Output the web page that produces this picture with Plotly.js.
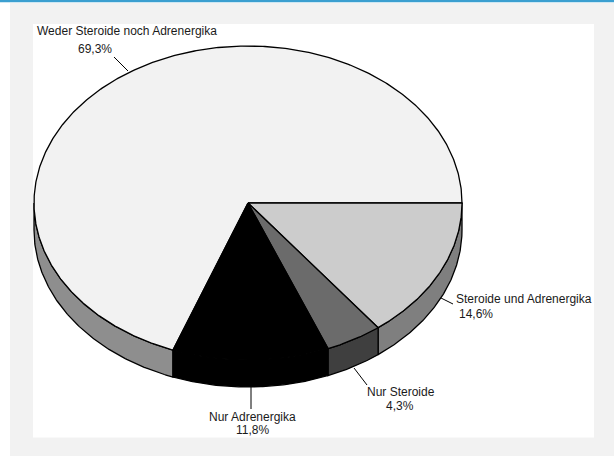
<!DOCTYPE html>
<html>
<head>
<meta charset="utf-8">
<script src="https://cdn.plot.ly/plotly-3.0.1.min.js"></script>
<style>html,body{margin:0;padding:0;background:#fff;}#chart{width:614px;height:456px;}</style>
</head>
<body>
<div id="chart"></div>
<script>
// ---- data ----
const categories = ["Weder Steroide noch Adrenergika", "Steroide und Adrenergika", "Nur Steroide", "Nur Adrenergika"];
const values = [69.3, 14.6, 4.3, 11.8];
const valueLabels = ["69,3%", "14,6%", "4,3%", "11,8%"];

// ---- style ----
const topColors = ["#f2f2f2", "#cccccc", "#6b6b6b", "#000000"];
const sideColors = ["#8e8e8e", "#7f7f7f", "#3f3f3f", "#000000"];

// 3D pie geometry (plot units = pixels)
const CX = 248, CY = 203, RX = 214, RY = 157, DEPTH = 27;
const total = values.reduce((a, b) => a + b, 0);
const startAngle = -values[0] / total * 360; // first slice ends at 3 o'clock

function pt(deg, dy) {
  const r = deg * Math.PI / 180;
  return [CX + RX * Math.cos(r), CY + RY * Math.sin(r) + (dy || 0)];
}
function arc(a0, a1, dy) {
  const n = Math.max(2, Math.ceil(Math.abs(a1 - a0) / 0.5));
  const out = [];
  for (let i = 0; i <= n; i++) out.push(pt(a0 + (a1 - a0) * i / n, dy));
  return out;
}

const sideTraces = [], topTraces = [];
let cum = 0;
values.forEach((v, i) => {
  const a0 = startAngle + cum / total * 360;
  const a1 = a0 + v / total * 360;
  cum += v;
  // visible side (front half: 0..180 deg, screen clockwise)
  for (let k = -360; k <= 360; k += 360) {
    const lo = Math.max(a0, k), hi = Math.min(a1, k + 180);
    if (hi > lo) {
      const pts = arc(lo, hi, 0).concat(arc(hi, lo, DEPTH));
      pts.push(pts[0]);
      sideTraces.push({
        type: "scatter", mode: "lines", fill: "toself",
        x: pts.map(p => p[0]), y: pts.map(p => p[1]),
        fillcolor: sideColors[i], line: {color: "#000", width: 1.3},
        hoverinfo: "skip", showlegend: false
      });
    }
  }
  const tp = [[CX, CY]].concat(arc(a0, a1, 0));
  tp.push([CX, CY]);
  topTraces.push({
    type: "scatter", mode: "lines", fill: "toself",
    x: tp.map(p => p[0]), y: tp.map(p => p[1]),
    fillcolor: topColors[i], line: {color: "#000", width: 1.3},
    name: categories[i], hoverinfo: "skip", showlegend: false
  });
});

const font = {family: "Liberation Sans, Arial, sans-serif", size: 12, color: "#1a1a1a"};
function ann(x, y, text) {
  return {x: x, y: y, xref: "x", yref: "y", text: text, showarrow: false,
          xanchor: "center", yanchor: "middle", font: font};
}
const annotations = [
  {x: 35, y: 31, xref: "x", yref: "y", text: categories[0], showarrow: false, xanchor: "left", yanchor: "middle", font: font},
  ann(95, 49, valueLabels[0]),
  {x: 454, y: 299, xref: "x", yref: "y", text: categories[1], showarrow: false, xanchor: "left", yanchor: "middle", font: font},
  ann(476, 314, valueLabels[1]),
  ann(401, 392, categories[2]),
  ann(400, 406, valueLabels[2]),
  ann(252, 417, categories[3]),
  ann(252, 430, valueLabels[3])
];

function line(x0, y0, x1, y1) {
  return {type: "line", xref: "x", yref: "y", x0: x0, y0: y0, x1: x1, y1: y1,
          line: {color: "#000", width: 1}, layer: "above"};
}
const shapes = [
  {type: "rect", xref: "x", yref: "y", x0: 0, x1: 614, y0: 0, y1: 2.2, fillcolor: "#3b9fd0", line: {width: 0}, layer: "below"},
  {type: "rect", xref: "x", yref: "y", x0: 10, x1: 614, y0: 3, y1: 456, fillcolor: "#f2f2f2", line: {width: 0}, layer: "below"},
  {type: "rect", xref: "x", yref: "y", x0: 33, x1: 594, y0: 24, y1: 437.5, fillcolor: "#ffffff", line: {width: 0}, layer: "below"},
  line(114, 57, 128, 71),
  line(441, 298, 453, 304),
  line(354, 368, 367, 385),
  line(251, 387, 251, 409)
];

const layout = {
  width: 614, height: 456,
  margin: {l: 0, r: 0, t: 0, b: 0},
  paper_bgcolor: "#ffffff", plot_bgcolor: "rgba(0,0,0,0)",
  xaxis: {range: [0, 614], visible: false, fixedrange: true},
  yaxis: {range: [456, 0], visible: false, fixedrange: true},
  showlegend: false, hovermode: false,
  shapes: shapes, annotations: annotations
};

Plotly.newPlot("chart", sideTraces.concat(topTraces), layout, {displayModeBar: false, staticPlot: true});
</script>
</body>
</html>
